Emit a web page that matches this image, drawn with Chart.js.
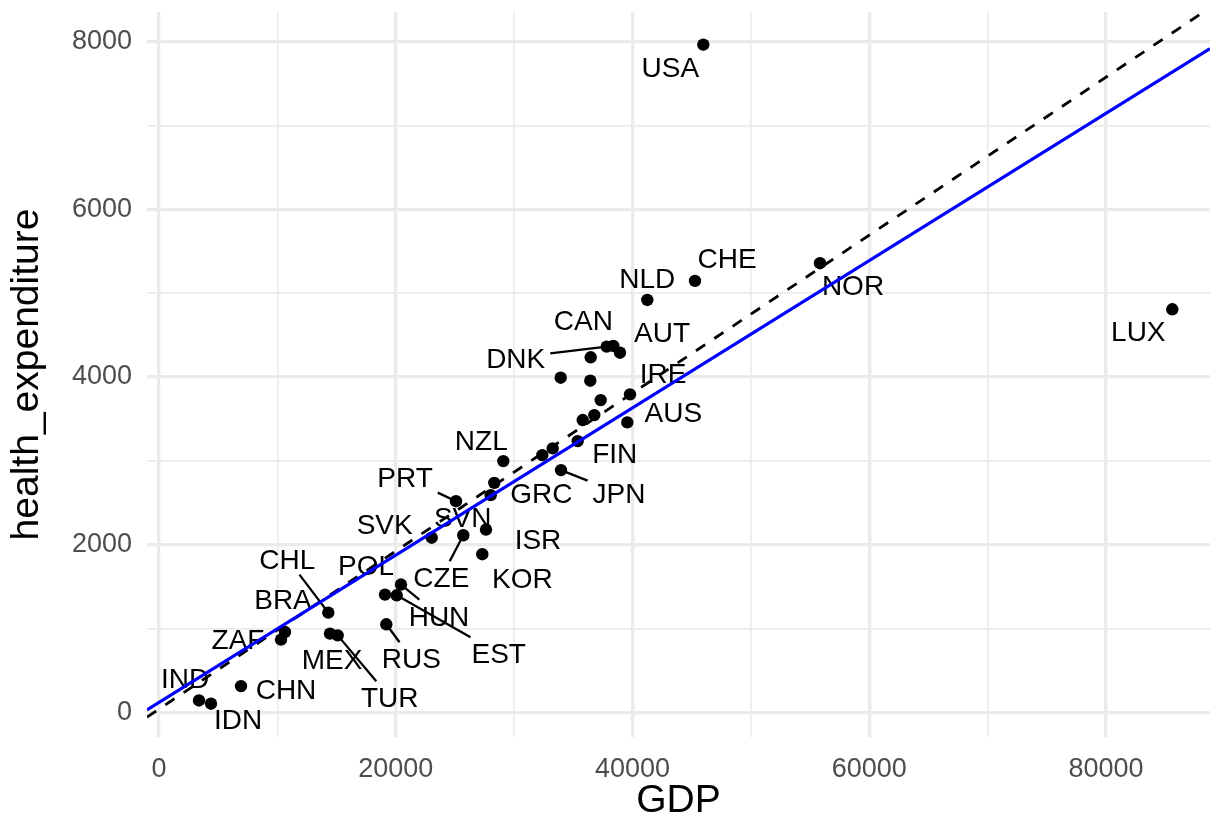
<!DOCTYPE html>
<html>
<head>
<meta charset="utf-8">
<title>GDP vs health expenditure</title>
<script src="https://cdn.jsdelivr.net/npm/chart.js@4.4.1/dist/chart.umd.min.js"></script>
<style>
  html, body { margin: 0; padding: 0; background: #fff; }
  #wrap { width: 1210px; height: 830px; }
</style>
</head>
<body>
<div id="wrap"><canvas id="chart" width="1210" height="830"></canvas></div>
<script>
// country codes ('' = point shown without a label)
const countries = ['USA', 'CHE', 'NLD', 'NOR', 'LUX', 'DNK', 'CAN', 'AUT', 'IRE', 'AUS',
    'FIN', 'JPN', 'NZL', 'GRC', 'SVN', 'PRT', 'SVK', 'CZE', 'ISR', 'KOR',
    'POL', 'HUN', 'EST', 'RUS', 'CHL', 'BRA', 'ZAF', 'MEX', 'TUR', 'CHN',
    'IND', 'IDN', '', '', '', '', '', '', '', ''];
const gdp = [45983, 45282, 41252, 55842, 85605, 37822, 38380, 38946, 39791, 39563,
    35372, 33961, 29087, 28327, 28022, 25091, 23038, 25708, 27625, 27313,
    19093, 20444, 20081, 19203, 14303, 10645, 10307, 14446, 15097, 6927,
    3379, 4393, 36470, 33936, 36437, 37315, 35795, 36774, 33260, 32382];
const healthExpenditure = [7964, 5146, 4919, 5357, 4808, 4362, 4370, 4290, 3793, 3459,
    3236, 2890, 2997, 2738, 2591, 2519, 2084, 2113, 2181, 1887,
    1405, 1525, 1397, 1051, 1190, 959, 868, 940, 919, 314,
    143, 104, 4235, 3992, 3956, 3725, 3487, 3546, 3149, 3069];

// reference lines: [intercept, slope]
const dashedLine = [40, 0.0942];
const fitLine = [120, 0.0878];

// axis ticks
const xMajorTicks = [0, 20000, 40000, 60000, 80000];
const xMinorTicks = [10000, 30000, 50000, 70000];
const yMajorTicks = [0, 2000, 4000, 6000, 8000];
const yMinorTicks = [1000, 3000, 5000, 7000];
const xLimits = [-1014, 88790];
const yLimits = [-293, 8353];

// label placement (pixel offset of label centre from its point), like ggrepel did
const labelOffsets = {
    USA: [-33, 22], CHE: [32, -23], NLD: [0, -22], NOR: [33, 22], LUX: [-34, 22],
    DNK: [-91, 11], CAN: [-30, -26], AUT: [42, -21], IRE: [33, -21], AUS: [46, -10],
    FIN: [37, 12], JPN: [58, 23], NZL: [-22, -21], GRC: [47, 10], SVN: [-28, 22],
    PRT: [-51, -24], SVK: [-47, -14], CZE: [-22, 42], ISR: [52, 9], KOR: [40, 24],
    POL: [-19, -30], HUN: [38, 31], EST: [102, 58], RUS: [25, 34], CHL: [-41, -54],
    BRA: [-2, -33], ZAF: [-43, -1], MEX: [2, 25], TUR: [52, 62], CHN: [45, 3],
    IND: [-14, -22], IDN: [27, 15]
};
const withSegment = ['DNK', 'JPN', 'PRT', 'CZE', 'HUN', 'EST', 'RUS', 'CHL', 'TUR'];

const FONT = '"Liberation Sans", Arial, Helvetica, sans-serif';
const LABEL_SIZE = 28;
const TICK_SIZE = 27;
const TITLE_SIZE = 39;

const points = gdp.map((x, i) => ({ x: x, y: healthExpenditure[i] }));
const lineData = (coef) => xLimits.map(x => ({ x: x, y: coef[0] + coef[1] * x }));

// draws the country labels and their leader segments
const repelLabels = {
    id: 'repelLabels',
    afterDatasetDraw(chart, args) {
        if (args.index !== 2) return;
        const ctx = chart.ctx;
        const xs = chart.scales.x, ys = chart.scales.y;
        ctx.save();
        ctx.font = LABEL_SIZE + 'px ' + FONT;
        ctx.textAlign = 'center';
        ctx.textBaseline = 'alphabetic';
        const cap = LABEL_SIZE * 0.716;
        countries.forEach((name, i) => {
            if (!name) return;
            const px = xs.getPixelForValue(gdp[i]);
            const py = ys.getPixelForValue(healthExpenditure[i]);
            const off = labelOffsets[name];
            const cx = px + off[0], cy = py + off[1];
            if (withSegment.includes(name)) {
                const hw = ctx.measureText(name).width / 2 + 5;
                const hh = cap / 2 + 6;
                const dx = px - cx, dy = py - cy;
                const t = Math.min(dx ? hw / Math.abs(dx) : Infinity, dy ? hh / Math.abs(dy) : Infinity);
                if (t < 1) {
                    ctx.beginPath();
                    ctx.moveTo(cx + dx * t, cy + dy * t);
                    ctx.lineTo(px, py);
                    ctx.strokeStyle = '#000';
                    ctx.lineWidth = 2.3;
                    ctx.stroke();
                }
            }
            ctx.fillStyle = '#000';
            ctx.fillText(name, cx, cy + cap / 2);
        });
        ctx.restore();
    }
};

const gridWidth = (majors) => (c) => majors.includes(c.tick.value) ? 3.3 : 1.7;

new Chart(document.getElementById('chart'), {
    type: 'scatter',
    data: {
        datasets: [
            {
                type: 'line',
                data: lineData(fitLine),
                borderColor: '#0000FF',
                borderWidth: 3.1,
                pointRadius: 0,
                clip: 0
            },
            {
                type: 'line',
                data: lineData(dashedLine),
                borderColor: '#000000',
                borderWidth: 2.8,
                borderDash: [11, 11],
                pointRadius: 0,
                clip: 0
            },
            {
                data: points,
                backgroundColor: '#000000',
                borderWidth: 0,
                pointRadius: 6.2,
                pointHoverRadius: 6.2
            }
        ]
    },
    options: {
        responsive: false,
        animation: false,
        devicePixelRatio: 1,
        layout: { autoPadding: false, padding: { top: 12, right: 0, left: 0, bottom: 0 } },
        plugins: {
            legend: { display: false },
            tooltip: { enabled: false }
        },
        events: [],
        scales: {
            x: {
                type: 'linear',
                min: xLimits[0],
                max: xLimits[1],
                afterBuildTicks: (s) => { s.ticks = xMajorTicks.concat(xMinorTicks).sort((a, b) => a - b).map(v => ({ value: v })); },
                afterFit: (s) => { s.height = 93; s.paddingLeft = 0; s.paddingRight = 0; },
                border: { display: false },
                grid: { color: '#EBEBEB', lineWidth: gridWidth(xMajorTicks), drawTicks: false },
                ticks: {
                    autoSkip: false,
                    maxRotation: 0,
                    padding: 16,
                    color: '#4D4D4D',
                    font: { family: FONT, size: TICK_SIZE },
                    callback: (v) => xMajorTicks.includes(v) ? String(v) : ''
                },
                title: {
                    display: true,
                    text: 'GDP',
                    color: '#000',
                    font: { family: FONT, size: TITLE_SIZE },
                    padding: { top: 5, bottom: 5 }
                }
            },
            y: {
                type: 'linear',
                min: yLimits[0],
                max: yLimits[1],
                afterBuildTicks: (s) => { s.ticks = yMajorTicks.concat(yMinorTicks).sort((a, b) => a - b).map(v => ({ value: v })); },
                afterFit: (s) => { s.width = 147; s.paddingTop = 0; s.paddingBottom = 0; },
                border: { display: false },
                grid: { color: '#EBEBEB', lineWidth: gridWidth(yMajorTicks), drawTicks: false },
                ticks: {
                    autoSkip: false,
                    padding: 15,
                    color: '#4D4D4D',
                    font: { family: FONT, size: TICK_SIZE },
                    callback: (v) => yMajorTicks.includes(v) ? String(v) : ''
                },
                title: {
                    display: true,
                    text: 'health_expenditure',
                    color: '#000',
                    font: { family: FONT, size: TITLE_SIZE },
                    padding: { top: 4, bottom: 4 }
                }
            }
        }
    },
    plugins: [repelLabels]
});
</script>
</body>
</html>
